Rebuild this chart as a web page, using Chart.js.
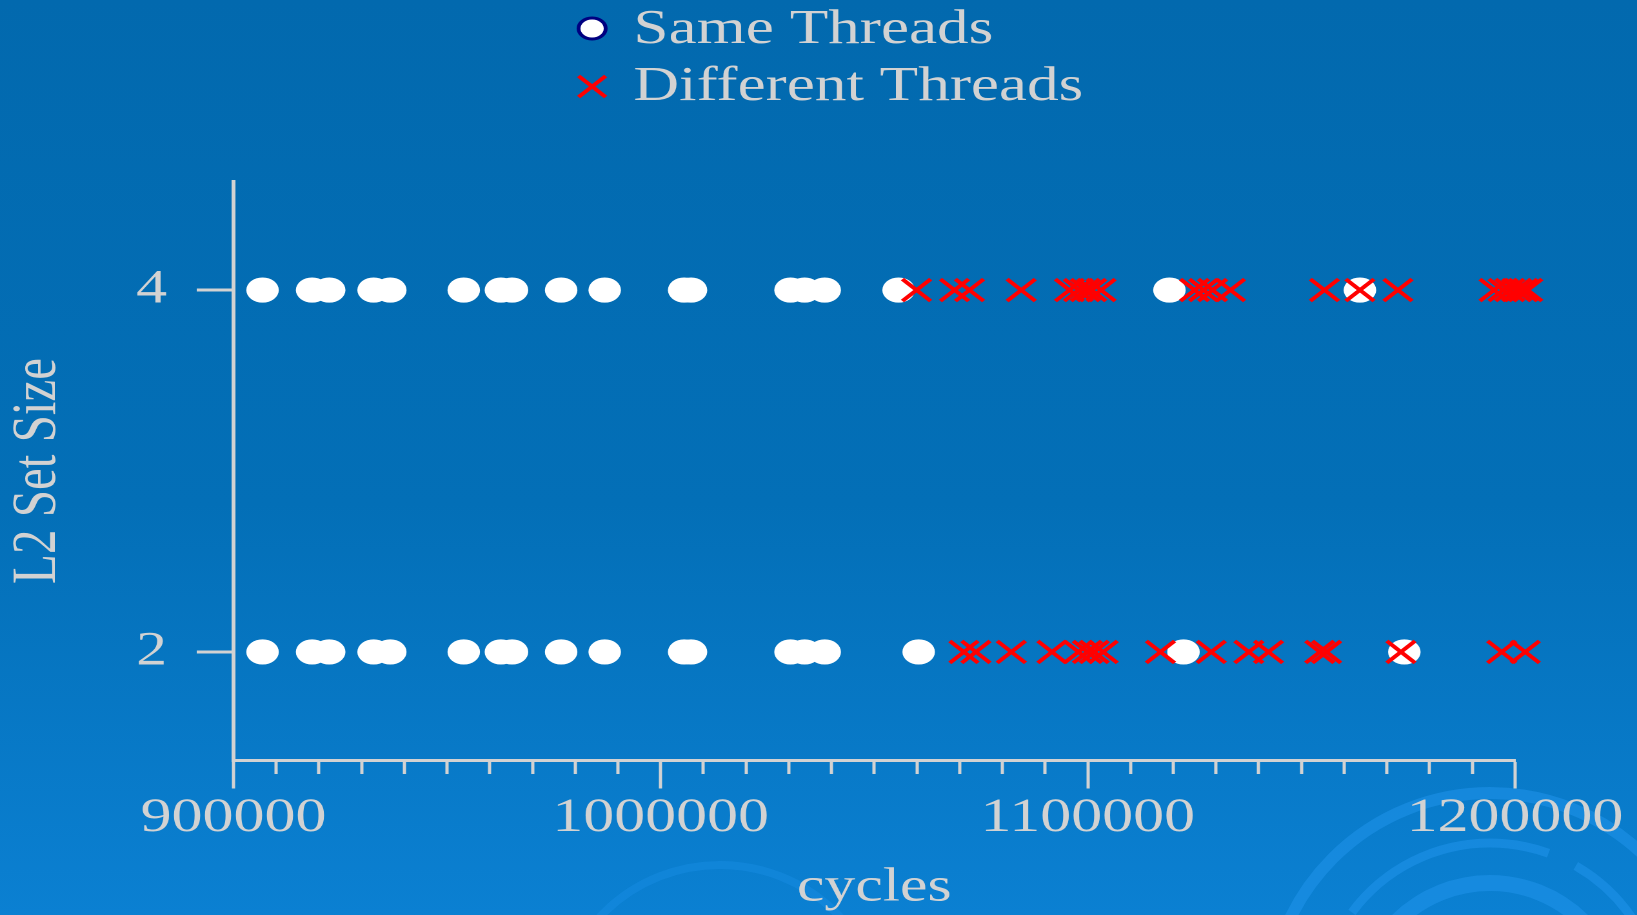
<!DOCTYPE html>
<html>
<head>
<meta charset="utf-8">
<title>L2 Set Size vs cycles</title>
<script src="https://cdn.jsdelivr.net/npm/chart.js@4/dist/chart.umd.min.js"></script>
<style>
  html, body { margin: 0; padding: 0; }
  body {
    width: 1637px; height: 915px; overflow: hidden; position: relative;
    background: linear-gradient(to bottom, #0269ae 0%, #036fb7 55%, #0b80d2 100%);
  }
  #deco { position: absolute; left: 0; top: 0; }
  /* the original slide is stretched sideways, so the whole chart is too */
  #wrap {
    position: absolute; left: 0; top: 0; width: 1269px; height: 915px;
    transform: scaleX(1.29); transform-origin: 0 0;
  }
</style>
</head>
<body>
<svg id="deco" width="1637" height="915">
  <g fill="none" stroke="#2196ee" stroke-opacity="0.5">
    <circle cx="1490" cy="1015" r="222" stroke-width="12"/>
    <circle cx="1490" cy="1015" r="172" stroke-width="9" stroke-dasharray="160 40 220 30"/>
    <circle cx="1490" cy="1015" r="132" stroke-width="16"/>
    <circle cx="1490" cy="1015" r="92" stroke-width="10" stroke-dasharray="90 30"/>
    <circle cx="720" cy="1030" r="165" stroke-width="8" stroke-opacity="0.3"/>
  </g>
</svg>
<div id="wrap"><canvas id="chart" width="1269" height="915"></canvas></div>
<script>
const seriesNames = ['Same Threads', 'Different Threads'];

// cycles for each run, one list per set size
const sameAt4 = [906800, 918400, 922400, 932800, 936700, 953900, 962600, 965200, 976700, 986900,
  1005500, 1007100, 1030400, 1033700, 1038400, 1055700, 1119100, 1163700];
const sameAt2 = [906800, 918400, 922400, 932800, 936700, 953900, 962600, 965200, 976700, 986900,
  1005500, 1007100, 1030400, 1033700, 1038400, 1060400, 1122400, 1174100];
const diffAt4 = [1059900, 1068800, 1072300, 1084400, 1095700, 1097800, 1099400, 1100900, 1103100,
  1125000, 1127100, 1129200, 1133400, 1155400, 1163700, 1172600,
  1195100, 1197200, 1198800, 1200400, 1201900, 1203000];
const diffAt2 = [1071000, 1073800, 1082100, 1091600, 1097800, 1099900, 1101500, 1103600, 1117000,
  1128900, 1137700, 1142300, 1154300, 1155900, 1173300, 1196900, 1202400];

const yTicks = [2, 4];
const xTitle = 'cycles';
const yTitle = 'L2 Set Size';

const gray = '#d2d2d2';
const serif = '"Liberation Serif", "Times New Roman", serif';

function toPoints(xs, y) {
  return xs.map(x => ({ x: x, y: y }));
}

// legend is stacked in two rows in the original, so draw it by hand
const stackedLegend = {
  id: 'stackedLegend',
  afterDraw(chart) {
    const c = chart.ctx;
    c.save();
    chart.data.datasets.forEach((ds, i) => {
      const cx = 459;
      const cy = 28.5 + i * 58;
      if (ds.pointStyle === 'circle') {
        c.beginPath();
        c.arc(cx, cy, 10.5, 0, Math.PI * 2);
        c.fillStyle = '#ffffff';
        c.fill();
        c.lineWidth = 3;
        c.strokeStyle = '#000080';
        c.stroke();
      } else {
        const r = 10.5;
        c.beginPath();
        c.moveTo(cx - r, cy - r); c.lineTo(cx + r, cy + r);
        c.moveTo(cx - r, cy + r); c.lineTo(cx + r, cy - r);
        c.lineWidth = 3.5;
        c.strokeStyle = '#ff0000';
        c.stroke();
      }
      c.font = '49px ' + serif;
      c.fillStyle = gray;
      c.textBaseline = 'alphabetic';
      c.textAlign = 'left';
      c.fillText(ds.label, 491, 43 + i * 57);
    });
    c.restore();
  }
};

Chart.defaults.font.family = serif;

const ctx = document.getElementById('chart').getContext('2d');
const chart = new Chart(ctx, {
  type: 'scatter',
  data: {
    datasets: [{
      label: seriesNames[0],
      data: toPoints(sameAt4, 4).concat(toPoints(sameAt2, 2)),
      pointStyle: 'circle',
      pointRadius: 12.6,
      pointBackgroundColor: '#ffffff',
      pointBorderWidth: 0,
      pointBorderColor: '#ffffff',
      order: 1,
      clip: false
    }, {
      label: seriesNames[1],
      data: toPoints(diffAt4, 4).concat(toPoints(diffAt2, 2)),
      pointStyle: 'crossRot',
      pointRadius: 15.5,
      pointBorderWidth: 3.5,
      pointBorderColor: '#ff0000',
      pointBackgroundColor: '#ff0000',
      order: 0,
      clip: false
    }]
  },
  options: {
    responsive: false,
    devicePixelRatio: 2,
    animation: false,
    events: [],
    layout: {
      padding: { top: 181.5, right: 94.6, bottom: 0, left: 0 }
    },
    scales: {
      x: {
        type: 'linear',
        min: 900000,
        max: 1200000,
        border: { display: true, color: gray, width: 3 },
        grid: {
          drawOnChartArea: false,
          tickLength: 28,
          tickWidth: 2.5,
          tickColor: gray,
          // short minor ticks, long ones at every 100000
          tickBorderDash: c => (c.tick && c.tick.value % 100000 === 0) ? [] : [12, 200]
        },
        ticks: {
          stepSize: 10000,
          autoSkip: false,
          maxRotation: 0,
          color: gray,
          padding: 6,
          font: { size: 48, lineHeight: 1 },
          callback: v => (v % 100000 === 0) ? String(v) : ''
        },
        title: {
          display: true,
          text: xTitle,
          color: gray,
          font: { size: 48, lineHeight: 1 },
          padding: { top: 0, bottom: 3 }
        },
        afterFit: s => { s.height = 154.5; s.paddingLeft = 0; s.paddingRight = 0; }
      },
      y: {
        type: 'linear',
        min: 1.4,
        max: 4.6,
        afterBuildTicks: s => { s.ticks = yTicks.map(v => ({ value: v })); },
        border: { display: true, color: gray, width: 3 },
        grid: {
          drawOnChartArea: false,
          tickLength: 28.5,
          tickWidth: 3,
          tickColor: gray
        },
        ticks: {
          color: gray,
          padding: 23,
          font: { size: 48, lineHeight: 1 }
        },
        title: {
          display: true,
          text: yTitle,
          color: gray,
          font: { size: 49, lineHeight: 1 },
          padding: { top: 5, bottom: 0 }
        },
        afterFit: s => { s.width = 181; s.paddingTop = 0; s.paddingBottom = 0; }
      }
    },
    plugins: {
      legend: { display: false },
      tooltip: { enabled: false }
    }
  },
  plugins: [stackedLegend]
});
</script>
</body>
</html>
